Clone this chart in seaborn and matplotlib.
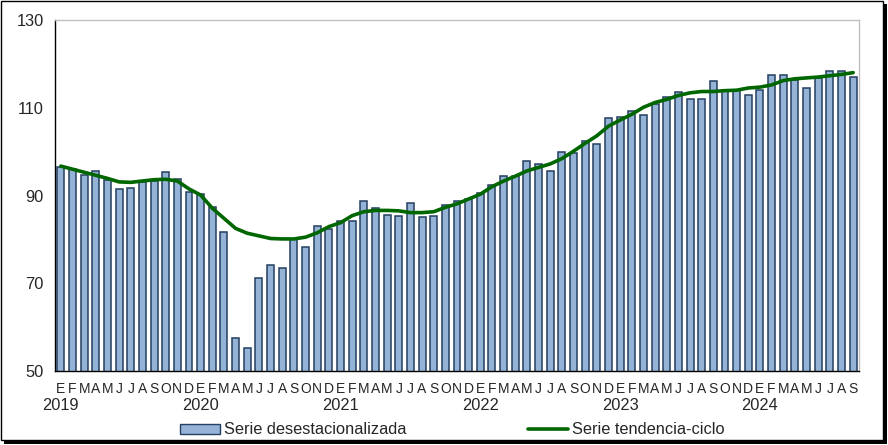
import numpy as np
import pandas as pd
import seaborn as sns
import matplotlib.pyplot as plt
from matplotlib.patches import Rectangle
from matplotlib.lines import Line2D
from matplotlib.patches import Patch

# Datos (enero 2019 - septiembre 2024)
meses = ['E', 'F', 'M', 'A', 'M', 'J', 'J', 'A', 'S', 'O', 'N', 'D']
anios = ['2019', '2020', '2021', '2022', '2023', '2024']

desestacionalizada = [
    96.4, 96.0, 94.7, 95.5, 93.5, 91.4, 91.6, 93.1, 93.4, 95.3, 93.7, 90.9,
    90.3, 87.3, 81.6, 57.5, 55.2, 71.1, 74.1, 73.4, 80.0, 78.3, 83.0, 82.3,
    84.3, 84.3, 88.7, 87.1, 85.5, 85.3, 88.2, 85.0, 85.3, 87.8, 88.7, 89.3,
    90.6, 92.3, 94.4, 94.4, 97.8, 97.1, 95.6, 99.9, 99.6, 102.4, 101.7, 107.6,
    108.0, 109.2, 108.3, 110.8, 112.4, 113.5, 112.1, 112.1, 116.0, 114.0, 114.0, 112.8,
    114.0, 117.4, 117.4, 116.3, 114.6, 116.7, 118.3, 118.3, 116.9,
]
tendencia = [
    96.7, 96.0, 95.3, 94.6, 93.9, 93.1, 93.0, 93.3, 93.6, 93.7, 93.3, 91.5,
    90.1, 87.1, 84.8, 82.5, 81.4, 80.8, 80.2, 80.1, 80.1, 80.5, 81.5, 82.9,
    83.8, 85.4, 86.3, 86.6, 86.6, 86.5, 86.1, 86.1, 86.3, 87.3, 88.1, 89.2,
    90.3, 92.0, 93.3, 94.4, 95.6, 96.4, 97.2, 98.4, 100.1, 101.9, 103.6, 105.8,
    107.2, 108.5, 110.1, 111.2, 111.9, 112.8, 113.4, 113.7, 113.7, 113.9, 114.0, 114.5,
    114.7, 115.2, 116.2, 116.6, 116.8, 117.0, 117.3, 117.6, 118.0,
]

n = len(desestacionalizada)
etiquetas = [meses[i % 12] for i in range(n)]

df = pd.DataFrame({'pos': np.arange(n), 'desest': desestacionalizada, 'tend': tendencia})

sns.set_style('white')
plt.rcParams['font.family'] = ['Liberation Sans', 'DejaVu Sans']

fig = plt.figure(figsize=(8.88, 4.45), dpi=100)

# Marco exterior con sombra
fig.patches.append(Rectangle((4 / 888, 1 / 445), 883 / 888, 440 / 445, transform=fig.transFigure,
                             facecolor='black', edgecolor='none', zorder=-2))
fig.patches.append(Rectangle((0.6 / 888, 5 / 445), 882 / 888, 439 / 445, transform=fig.transFigure,
                             facecolor='white', edgecolor='black', linewidth=1.0, zorder=-1))

ax = fig.add_axes([55 / 888, 1 - 371 / 445, 804 / 888, 351 / 445])
ax.set_facecolor('none')

sns.barplot(data=df, x='pos', y='desest', color='#95B3D7', saturation=1, edgecolor='#243F60',
            linewidth=1.1, width=0.6, ax=ax)
sns.lineplot(data=df, x='pos', y='tend', color='#006600', linewidth=2.6, ax=ax)

ax.set_ylim(50, 130)
ax.set_xlim(-0.5, n - 0.5)
ax.set_yticks([50, 70, 90, 110, 130])
ax.set_xticks(np.arange(n))
ax.set_xticklabels(etiquetas, fontsize=10)
ax.set_xticks(np.arange(-0.5, n, 12), minor=True)
ax.tick_params(axis='x', which='major', length=0, pad=8)
ax.tick_params(axis='x', which='minor', length=5, width=0.8, direction='out', color='black')
ax.tick_params(axis='y', length=5, width=0.8, direction='out', color='black', labelsize=11.8, pad=3)
ax.set_xlabel('')
ax.set_ylabel('')

# Años debajo de enero
for k, a in enumerate(anios):
    ax.text(k * 12, -34 / 351, a, transform=ax.get_xaxis_transform(),
            ha='center', va='center', fontsize=11.8)

for s in ['top', 'right']:
    ax.spines[s].set_color('#BFBFBF')
    ax.spines[s].set_linewidth(1.0)
for s in ['left', 'bottom']:
    ax.spines[s].set_color('black')
    ax.spines[s].set_linewidth(1.0)

handles = [Patch(facecolor='#95B3D7', edgecolor='#243F60', linewidth=1.0),
           Line2D([0], [0], color='#006600', linewidth=2.6)]
fig.legend(handles, ['Serie desestacionalizada', 'Serie tendencia-ciclo'], ncol=2,
           loc='center', bbox_to_anchor=(452 / 888, 1 - 430 / 445), frameon=False,
           fontsize=11.8, handlelength=2.45, handleheight=0.6, handletextpad=0.25, columnspacing=7.4)

plt.savefig('out.png', dpi=100)
plt.close()
